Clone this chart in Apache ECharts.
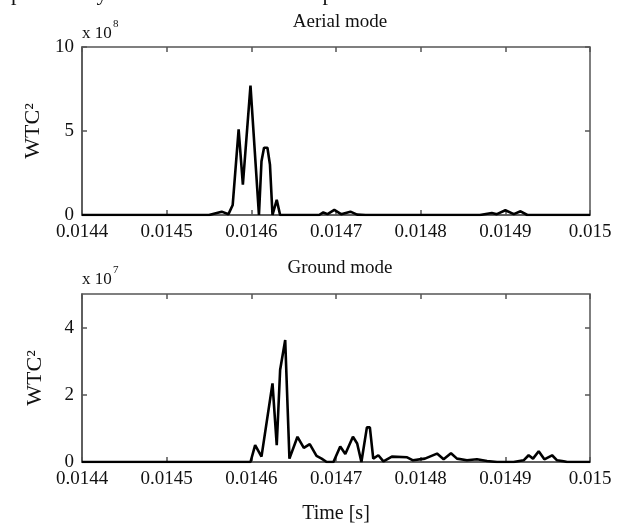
<!DOCTYPE html>
<html>
<head>
<meta charset="utf-8">
<script src="https://cdn.jsdelivr.net/npm/echarts@6/dist/echarts.min.js"></script>
<style>
html, body { margin: 0; padding: 0; background: #fff; }
#chart { width: 618px; height: 525px; }
</style>
</head>
<body>
<div id="chart"></div>
<script>
// tick values
var xTicks = [0.0144, 0.0145, 0.0146, 0.0147, 0.0148, 0.0149, 0.015];
var aerialTicks = [0, 5, 10];   // x 10^8
var groundTicks = [0, 2, 4];    // x 10^7

// Aerial mode, WTC^2 in units of 1e8
var aerialT = [0.0144, 0.01455, 0.014565, 0.014573, 0.014578, 0.014585, 0.01459, 0.014599, 0.014609,
  0.014612, 0.014615, 0.014619, 0.014622, 0.014625, 0.01463, 0.014634, 0.01468, 0.014685, 0.01469, 0.014698, 0.014706,
  0.014717, 0.014725, 0.014735, 0.01487, 0.014884, 0.01489, 0.0149, 0.01491, 0.014918, 0.014926, 0.015];
var aerialV = [0, 0, 0.2, 0.05, 0.6, 5.1, 1.8, 7.7, 0,
  3.2, 4.0, 4.0, 3.0, 0, 0.9, 0, 0, 0.15, 0.05, 0.3, 0.05,
  0.2, 0.02, 0, 0, 0.12, 0.05, 0.28, 0.05, 0.22, 0, 0];

// Ground mode, WTC^2 in units of 1e7
var groundT = [0.0144, 0.014599, 0.0146045, 0.014612, 0.014625, 0.01463, 0.014634, 0.01464, 0.014645,
  0.0146545, 0.014662, 0.014669, 0.014677, 0.014683, 0.014689, 0.014697, 0.014705, 0.014711, 0.01472,
  0.014725, 0.01473, 0.0147365, 0.01474, 0.014744, 0.01475, 0.014756, 0.014766, 0.014784, 0.014791,
  0.014805, 0.0148193, 0.0148271, 0.0148358, 0.0148429, 0.0148547, 0.0148665, 0.0148784, 0.0148902,
  0.0149098, 0.0149216, 0.0149275, 0.0149327, 0.0149394, 0.0149461, 0.0149552, 0.0149611, 0.0149689,
  0.014973, 0.015];
var groundV = [0, 0, 0.5, 0.16, 2.34, 0.5, 2.74, 3.63, 0.1,
  0.75, 0.42, 0.53, 0.18, 0.1, 0, 0, 0.46, 0.24, 0.75,
  0.55, 0, 1.03, 1.03, 0.1, 0.2, 0.02, 0.16, 0.14, 0.05,
  0.1, 0.25, 0.08, 0.26, 0.1, 0.05, 0.08, 0.03, 0,
  0, 0.05, 0.2, 0.1, 0.32, 0.08, 0.2, 0.05, 0.02,
  0, 0];

var serif = '"Liberation Serif", "DejaVu Serif", serif';
var axisCol = '#555';

function pairs(t, v) {
  return t.map(function (x, i) { return [x, v[i]]; });
}

function xAx(grid, pos) {
  return {
    type: 'value', gridIndex: grid, position: pos,
    min: xTicks[0], max: xTicks[xTicks.length - 1],
    axisLine: { show: pos === 'bottom', onZero: false, lineStyle: { color: axisCol, width: 1.5 } },
    axisTick: { inside: true, length: 5, customValues: xTicks, lineStyle: { color: axisCol, width: 1.5 } },
    axisLabel: {
      show: pos === 'bottom', customValues: xTicks, margin: 8,
      fontFamily: serif, fontSize: 19, color: '#111',
      formatter: function (v) { return String(+v.toFixed(4)); }
    },
    splitLine: { show: false }
  };
}

function yAx(grid, pos, ticks, max) {
  return {
    type: 'value', gridIndex: grid, position: pos,
    min: 0, max: max,
    name: pos === 'left' ? 'WTC\u00b2' : '',
    nameLocation: 'middle', nameGap: 36, nameRotate: 90,
    nameTextStyle: { fontFamily: serif, fontSize: 22, color: '#111' },
    axisLine: { show: pos === 'left', lineStyle: { color: axisCol, width: 1.5 } },
    axisTick: { inside: true, length: 5, customValues: ticks, lineStyle: { color: axisCol, width: 1.5 } },
    axisLabel: {
      show: pos === 'left', customValues: ticks, margin: 8,
      fontFamily: serif, fontSize: 19, color: '#111'
    },
    splitLine: { show: false }
  };
}

function txt(x, y, s, size, align) {
  return {
    type: 'text', x: x, y: y,
    style: { text: s, font: size + 'px ' + serif, fill: '#111', textAlign: align || 'left', textVerticalAlign: 'middle' }
  };
}

var myChart = echarts.init(document.getElementById('chart'));

var option = {
  backgroundColor: '#fff',
  animation: false,
  grid: [
    { left: 82, right: 28, top: 47, height: 168, show: true, borderColor: axisCol, borderWidth: 1.5 },
    { left: 82, right: 28, top: 294, height: 168, show: true, borderColor: axisCol, borderWidth: 1.5 }
  ],
  xAxis: [xAx(0, 'bottom'), xAx(1, 'bottom'), xAx(0, 'top'), xAx(1, 'top')],
  yAxis: [yAx(0, 'left', aerialTicks, 10), yAx(1, 'left', groundTicks, 5), yAx(0, 'right', aerialTicks, 10), yAx(1, 'right', groundTicks, 5)],
  series: [
    {
      type: 'line', xAxisIndex: 0, yAxisIndex: 0, data: pairs(aerialT, aerialV),
      showSymbol: false, lineStyle: { color: '#000', width: 2.6 }
    },
    {
      type: 'line', xAxisIndex: 1, yAxisIndex: 1, data: pairs(groundT, groundV),
      showSymbol: false, lineStyle: { color: '#000', width: 2.6 }
    }
  ],
  graphic: [
    txt(0, -6, 'nprobability of the instants of initial peaks.', 22),
    txt(340, 22, 'Aerial mode', 19, 'center'),
    txt(82, 34, 'x 10', 17),
    txt(113, 24, '8', 11),
    txt(340, 268, 'Ground mode', 19, 'center'),
    txt(82, 280, 'x 10', 17),
    txt(113, 270, '7', 11),
    txt(336, 514, 'Time [s]', 20, 'center')
  ]
};

myChart.setOption(option);
</script>
</body>
</html>
